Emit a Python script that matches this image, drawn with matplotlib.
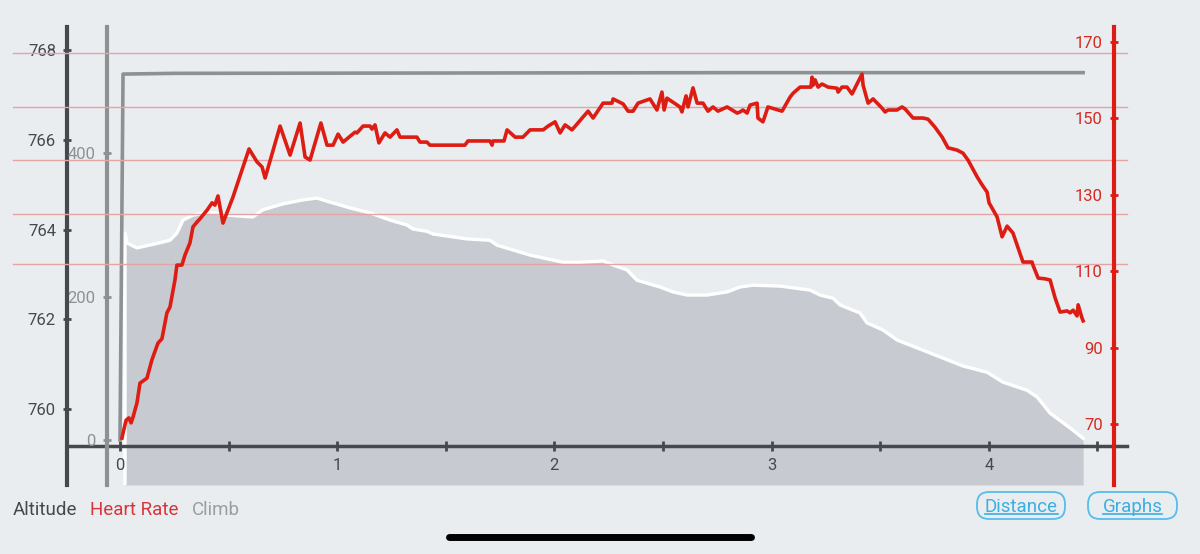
import matplotlib
matplotlib.use("Agg")
import matplotlib.pyplot as plt
from matplotlib.patches import FancyBboxPatch
from matplotlib.lines import Line2D
from matplotlib.transforms import IdentityTransform

plt.rcParams['font.family'] = ['Roboto', 'DejaVu Sans']

# ---------------- data ----------------
alt_km = [0.023, 0.032, 0.078, 0.152, 0.230, 0.262, 0.290, 0.336, 0.414, 0.493,
          0.612, 0.658, 0.750, 0.843, 0.907, 0.967, 1.059, 1.151, 1.243, 1.321,
          1.349, 1.413, 1.441, 1.598, 1.703, 1.736, 1.888, 2.040, 2.118, 2.224,
          2.270, 2.334, 2.380, 2.486, 2.546, 2.611, 2.703, 2.795, 2.855, 2.914,
          3.039, 3.177, 3.223, 3.283, 3.315, 3.407, 3.439, 3.513, 3.577, 3.729,
          3.881, 3.992, 4.065, 4.176, 4.222, 4.282, 4.374, 4.434]
alt_m = [763.92, 763.70, 763.59, 763.67, 763.76, 763.92, 764.21, 764.32, 764.39, 764.32,
         764.28, 764.44, 764.57, 764.66, 764.70, 764.61, 764.48, 764.37, 764.21, 764.10,
         764.01, 763.96, 763.90, 763.79, 763.76, 763.65, 763.43, 763.27, 763.27, 763.30,
         763.21, 763.10, 762.87, 762.72, 762.61, 762.54, 762.54, 762.61, 762.72, 762.76,
         762.74, 762.65, 762.54, 762.47, 762.32, 762.14, 761.92, 761.76, 761.54, 761.25,
         760.96, 760.82, 760.60, 760.42, 760.27, 759.91, 759.58, 759.35]

climb_km = [0.0, 0.014, 0.25, 2.90, 4.434]
climb_m = [0, 510, 511, 512, 512]

hr_km = [0.009, 0.014, 0.028, 0.041, 0.051, 0.060, 0.078, 0.092, 0.124, 0.147,
         0.175, 0.193, 0.216, 0.230, 0.253, 0.262, 0.285, 0.299, 0.322, 0.336,
         0.355, 0.368, 0.401, 0.424, 0.437, 0.451, 0.474, 0.520, 0.594, 0.631,
         0.654, 0.668, 0.737, 0.783, 0.829, 0.852, 0.875, 0.925, 0.953, 0.981,
         1.004, 1.027, 1.082, 1.091, 1.119, 1.151, 1.160, 1.174, 1.192, 1.220,
         1.243, 1.275, 1.289, 1.367, 1.381, 1.413, 1.427, 1.588, 1.602, 1.703,
         1.713, 1.717, 1.768, 1.782, 1.819, 1.855, 1.888, 1.948, 1.971, 2.003,
         2.026, 2.049, 2.081, 2.155, 2.178, 2.224, 2.265, 2.270, 2.316, 2.339,
         2.362, 2.385, 2.440, 2.472, 2.495, 2.505, 2.518, 2.578, 2.587, 2.606,
         2.615, 2.638, 2.657, 2.684, 2.707, 2.730, 2.753, 2.795, 2.841, 2.855,
         2.868, 2.887, 2.901, 2.933, 2.937, 2.960, 2.983, 3.048, 3.085, 3.099,
         3.131, 3.181, 3.186, 3.191, 3.200, 3.214, 3.232, 3.260, 3.301, 3.306,
         3.324, 3.347, 3.370, 3.416, 3.421, 3.444, 3.467, 3.508, 3.522, 3.536,
         3.577, 3.600, 3.614, 3.651, 3.697, 3.720, 3.752, 3.785, 3.812, 3.854,
         3.881, 3.904, 3.946, 3.969, 3.992, 4.001, 4.038, 4.061, 4.084, 4.111,
         4.157, 4.199, 4.203, 4.227, 4.259, 4.282, 4.305, 4.328, 4.360, 4.374,
         4.388, 4.406, 4.411, 4.429, 4.434]
hr_bpm = [66.3, 67.6, 71.0, 71.6, 70.3, 71.8, 75.5, 80.7, 82.0, 86.8,
          91.2, 92.3, 99.1, 100.6, 107.7, 111.6, 111.6, 114.2, 117.4, 121.6,
          122.9, 123.7, 126.0, 127.9, 127.3, 129.7, 122.6, 129.4, 142.0, 138.6,
          137.3, 134.4, 148.0, 140.4, 148.8, 139.9, 139.1, 148.8, 143.0, 143.0,
          145.9, 143.8, 146.4, 146.2, 148.0, 148.0, 147.2, 148.3, 143.6, 146.2,
          145.1, 147.0, 145.1, 145.1, 143.8, 143.8, 143.0, 143.0, 144.1, 144.1,
          143.0, 144.1, 144.1, 147.0, 145.1, 145.1, 147.0, 147.0, 148.0, 149.1,
          146.2, 148.3, 147.0, 151.9, 150.1, 154.0, 154.0, 155.1, 153.8, 151.9,
          151.9, 154.0, 155.1, 152.2, 156.9, 152.2, 155.3, 153.0, 151.7, 155.9,
          153.0, 158.0, 154.0, 154.0, 151.9, 153.0, 151.9, 153.0, 151.4, 151.7,
          152.2, 151.4, 153.5, 154.0, 150.1, 149.1, 153.0, 151.9, 155.6, 156.6,
          158.2, 158.2, 160.8, 158.7, 160.1, 158.2, 159.0, 158.2, 157.9, 156.9,
          158.2, 158.2, 156.4, 161.6, 158.7, 154.0, 155.1, 152.7, 151.7, 152.2,
          152.2, 153.0, 152.5, 150.1, 150.1, 149.8, 147.7, 145.1, 142.3, 141.7,
          140.9, 139.1, 134.7, 132.6, 130.7, 127.9, 124.2, 119.0, 121.8, 120.0,
          112.4, 112.4, 111.6, 108.2, 108.0, 107.7, 103.0, 99.3, 99.6, 99.1,
          99.8, 98.3, 101.2, 97.7, 97.0]

hr_grid = [167.0, 153.0, 139.0, 125.0, 111.9]

x_ticks = [0, 0.5, 1, 1.5, 2, 2.5, 3, 3.5, 4, 4.5]
x_labels = ['0', '', '1', '', '2', '', '3', '', '4', '']
alt_ticks = [760, 762, 764, 766, 768]
climb_ticks = [0, 200, 400]
hr_ticks = [70, 90, 110, 130, 150, 170]

legend_items = ['Altitude', 'Heart Rate', 'Climb']
buttons = ['Distance', 'Graphs']

# ---------------- style ----------------
BG = '#E9EDF0'
DARK = '#45484D'
GRAY = '#8E9194'
RED = '#DD1D14'
FILL = '#C8CAD1'
GRID = '#E5A4A4'
BLUE = '#3BAEE2'

W, H = 1200, 554
fig = plt.figure(figsize=(W / 100, H / 100), dpi=100, facecolor=BG)

ax = fig.add_axes([67 / W, (H - 485) / H, 1060 / W, 458 / H])
ax.set_facecolor(BG)
ax.set_xlim(-0.244, 4.636)
ax.set_ylim(758.31, 768.51)

alt_bottom = ax.get_ylim()[0]
ax.fill_between(alt_km, alt_m, alt_bottom, color=FILL, lw=0, zorder=1)
ax.plot([alt_km[0]] + alt_km, [alt_bottom] + alt_m, color='white', lw=2.4,
        zorder=1.5, solid_joinstyle='round')

for s in ['top', 'right']:
    ax.spines[s].set_visible(False)
ax.spines['left'].set_color(DARK)
ax.spines['left'].set_linewidth(3)
ax.spines['bottom'].set_position(('data', 759.18))
ax.spines['bottom'].set_color(DARK)
ax.spines['bottom'].set_linewidth(2.5)
ax.set_yticks(alt_ticks)
ax.set_yticklabels([str(t) for t in alt_ticks])
ax.set_xticks(x_ticks)
ax.set_xticklabels(x_labels)
ax.tick_params(axis='y', direction='inout', length=6, width=2, color=DARK,
               labelcolor=DARK, labelsize=12, pad=5)
ax.tick_params(axis='x', direction='inout', length=7, width=2, color=DARK,
               labelcolor=DARK, labelsize=12, pad=5)

# climb axis
ax2 = ax.twinx()
ax2.set_ylim(-62.7, 575.6)
ax2.yaxis.set_ticks_position('left')
for s in ['top', 'right', 'bottom']:
    ax2.spines[s].set_visible(False)
ax2.spines['left'].set_visible(True)
ax2.spines['left'].set_position(('data', -0.060))
ax2.spines['left'].set_color(GRAY)
ax2.spines['left'].set_linewidth(3)
ax2.set_yticks(climb_ticks)
ax2.set_yticklabels([str(t) for t in climb_ticks])
ax2.tick_params(axis='y', direction='inout', length=6, width=2, color=GRAY,
                labelcolor=GRAY, labelsize=12, pad=5)
ax2.plot(climb_km, climb_m, color=GRAY, lw=2.6, zorder=2)

# heart rate axis
ax3 = ax.twinx()
ax3.set_ylim(54.03, 173.93)
ax3.yaxis.set_ticks_position('left')
for s in ['top', 'right', 'bottom']:
    ax3.spines[s].set_visible(False)
ax3.spines['left'].set_visible(True)
ax3.spines['left'].set_position(('data', 4.576))
ax3.spines['left'].set_color(RED)
ax3.spines['left'].set_linewidth(3)
ax3.set_yticks(hr_ticks)
ax3.set_yticklabels([str(t) for t in hr_ticks])
ax3.tick_params(axis='y', direction='inout', length=6, width=2, color=RED,
                labelcolor='#D42A22', labelsize=12, pad=5)
for g in hr_grid:
    ax3.axhline(g, xmin=-0.051, xmax=1.0, color=GRID, lw=1, clip_on=False, zorder=1)
ax3.plot(hr_km, hr_bpm, color=RED, lw=2.6, zorder=3, solid_joinstyle='round')

# ---------------- bottom UI ----------------
I = IdentityTransform()
def P(x, y):
    return x, H - y

leg_colors = [DARK, '#D6353B', '#9B9EA1']
leg_x = [13, 90, 192]
for txt, c, x in zip(legend_items, leg_colors, leg_x):
    fig.text(*P(x, 510), txt, color=c, fontsize=13.5, ha='left', va='center',
             transform=I)

btn_boxes = [(977, 492, 88, 27), (1088, 492, 89, 27)]
for (x0, y0, w, h), label in zip(btn_boxes, buttons):
    px, py = P(x0, y0 + h)
    fig.add_artist(FancyBboxPatch((px, py), w, h,
                                  boxstyle='round,pad=0,rounding_size=12',
                                  transform=I, fc='none', ec='#55BDEB', lw=1.3))
    fig.text(*P(x0 + w / 2, y0 + h / 2 + 1), label, color=BLUE, fontsize=13.5,
             ha='center', va='center', transform=I)

fig.canvas.draw()
r = fig.canvas.get_renderer()
for t in fig.texts:
    if t.get_text() in buttons:
        bb = t.get_window_extent(r)
        fig.add_artist(Line2D([bb.x0, bb.x1], [bb.y0 + 2, bb.y0 + 2], color=BLUE,
                              lw=1.2, transform=I))

fig.add_artist(Line2D([P(449, 537)[0], P(751, 537)[0]], [P(0, 537)[1]] * 2,
                      color='black', lw=5, solid_capstyle='round', transform=I))

fig.savefig('out.png', dpi=100, facecolor=BG)
